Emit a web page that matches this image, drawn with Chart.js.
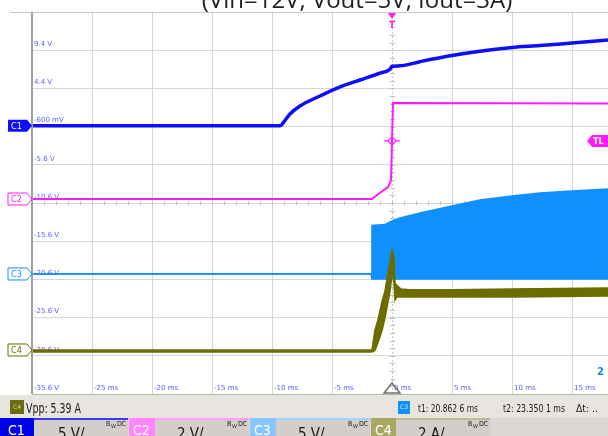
<!DOCTYPE html>
<html>
<head>
<meta charset="utf-8">
<script src="https://cdn.jsdelivr.net/npm/chart.js@4.4.1/dist/chart.umd.min.js"></script>
<style>
  html, body { margin: 0; padding: 0; background: #fff; overflow: hidden; }
  #wrap { position: relative; width: 608px; height: 436px; }
</style>
</head>
<body>
<div id="wrap"><canvas id="scope" width="608" height="436"></canvas></div>
<script>
// graticule ticks (ms / V of C1 scale)
const xTicks = [-30, -25, -20, -15, -10, -5, 0, 5, 10, 15];
const yTicks = [-35.6, -30.6, -25.6, -20.6, -15.6, -10.6, -5.6, -0.6, 4.4, 9.4, 14.4];

// C1 - output voltage
const c1Time = [-30, -9.33, -8.9, -8.5, -7.67, -6, -4.33, -2.67, -1, -0.17, 0, 0.67, 2.33, 5, 7.33, 10, 12.33, 15, 18];
const c1Volt = [-0.5, -0.5, 0.26, 1.05, 2.1, 3.41, 4.6, 5.5, 6.4, 6.9, 7.3, 7.35, 7.9, 8.7, 9.25, 9.75, 10.0, 10.35, 10.74];

// C2 - power good / enable
const c2Time = [-30, -1.67, -1.25, -0.33, -0.08, 0.08, 18];
const c2Volt = [-10.08, -10.08, -9.55, -8.51, -7.59, 2.49, 2.42];

// C3 - switch node (envelope)
const c3Time = [-30, -1.75, -1.67, -0.58, 0, 0.67, 2.33, 5, 7.33, 10, 12.33, 15, 18];
const c3High = [-19.89, -19.89, -13.55, -13.4, -12.96, -12.56, -11.91, -10.99, -10.21, -9.68, -9.29, -9.03, -8.77];
const c3Low  = [-19.89, -19.89, -20.55, -20.55, -20.55, -20.55, -20.55, -20.55, -20.55, -20.55, -20.55, -20.55, -20.55];

// C4 - inductor current (envelope)
const c4Time = [-30, -1.67, -1.42, -1.17, -0.83, -0.58, -0.42, -0.17, 0, 0.08, 0.17, 0.25, 0.42, 0.75, 1.5, 5, 10, 18];
const c4High = [-29.84, -29.84, -27.2, -25.9, -23.5, -22.1, -20.5, -18.4, -16.75, -17.01, -17.8, -21.1, -21.4, -21.86, -21.95, -21.95, -21.86, -21.73];
const c4Low  = [-30.1, -30.1, -29.9, -28.9, -27.3, -25.6, -24.3, -22.2, -20.02, -19.37, -21.33, -23.3, -22.9, -22.9, -22.9, -22.9, -22.9, -22.77];

const triggerLevel = -2.48;

const c1Color = '#0d0dff';
const c2Color = '#ff1aff';
const c3Color = '#1090ff';
const c4Color = '#6c6c00';

function pts(t, v) {
    return t.map((x, i) => ({ x: x, y: v[i] }));
}

function yLabel(v) {
    if (Math.abs(v) < 1) return Math.round(v * 1000) + ' mV';
    return v.toFixed(1) + ' V';
}

function tag(ctx, x0, y, w, h, color, filled, text) {
    ctx.beginPath();
    ctx.moveTo(x0, y - h / 2);
    ctx.lineTo(x0 + w - 5, y - h / 2);
    ctx.lineTo(x0 + w, y);
    ctx.lineTo(x0 + w - 5, y + h / 2);
    ctx.lineTo(x0, y + h / 2);
    ctx.closePath();
    if (filled) {
        ctx.fillStyle = color;
        ctx.fill();
    } else {
        ctx.fillStyle = '#fff';
        ctx.fill();
        ctx.strokeStyle = color;
        ctx.lineWidth = 1;
        ctx.stroke();
    }
    ctx.fillStyle = filled ? '#fff' : color;
    ctx.font = '9px "DejaVu Sans Condensed", "DejaVu Sans"';
    ctx.textAlign = 'left';
    ctx.textBaseline = 'middle';
    ctx.fillText(text, x0 + 3, y + 0.5);
}

const scopeDecor = {
    id: 'scopeDecor',
    beforeDatasetsDraw(chart) {
        const ctx = chart.ctx;
        const a = chart.chartArea;
        const xs = chart.scales.x, ys = chart.scales.y;
        ctx.save();
        // dotted centre line at t = 0
        const x0 = xs.getPixelForValue(0);
        ctx.strokeStyle = '#c8c8c8';
        ctx.lineWidth = 1;
        ctx.setLineDash([2, 2]);
        ctx.beginPath();
        ctx.moveTo(x0 + 0.5, a.top);
        ctx.lineTo(x0 + 0.5, a.bottom);
        ctx.stroke();
        ctx.setLineDash([]);
        // minor ticks on centre axes
        const yc = ys.getPixelForValue(-10.6);
        ctx.strokeStyle = '#c0c0c0';
        ctx.beginPath();
        for (let t = -30; t <= 18; t += 1) {
            const px = Math.round(xs.getPixelForValue(t)) + 0.5;
            ctx.moveTo(px, yc - 2);
            ctx.lineTo(px, yc + 2);
        }
        for (let k = 0; k <= 50; k++) {
            const py = Math.round(ys.getPixelForValue(-35.6 + k)) + 0.5;
            ctx.moveTo(x0 - 2, py);
            ctx.lineTo(x0 + 3, py);
        }
        ctx.stroke();
        // graticule labels
        ctx.fillStyle = '#5c5cff';
        ctx.font = '7px "DejaVu Sans"';
        ctx.textAlign = 'left';
        ctx.textBaseline = 'middle';
        yTicks.forEach(v => {
            if (v === 14.4) return;
            ctx.fillText(yLabel(v), a.left + 2, ys.getPixelForValue(v) - 6);
        });
        xTicks.forEach(t => {
            if (t === -30) return;
            ctx.fillText(t + ' ms', xs.getPixelForValue(t) + 2, a.bottom - 6);
        });
        ctx.restore();
    },
    afterDraw(chart) {
        const ctx = chart.ctx;
        const a = chart.chartArea;
        const xs = chart.scales.x, ys = chart.scales.y;
        const W = chart.width;
        ctx.save();

        // title (cut by the top of the window)
        ctx.fillStyle = '#222';
        ctx.font = '24px "Open Sans"';
        ctx.textAlign = 'center';
        ctx.textBaseline = 'alphabetic';
        ctx.fillText('(Vin=12V, Vout=5V, Iout=3A)', 357, 8);

        // top frame line
        ctx.strokeStyle = '#c8c8c8';
        ctx.lineWidth = 1;
        ctx.beginPath();
        ctx.moveTo(10, a.top + 0.5);
        ctx.lineTo(W, a.top + 0.5);
        ctx.stroke();
        // left frame
        ctx.strokeStyle = '#a0a0a0';
        ctx.lineWidth = 2;
        ctx.beginPath();
        ctx.moveTo(a.left, a.top);
        ctx.lineTo(a.left, a.bottom);
        ctx.stroke();

        // trigger marker
        const xt = xs.getPixelForValue(0);
        ctx.fillStyle = c2Color;
        ctx.beginPath();
        ctx.moveTo(xt - 4, a.top + 1);
        ctx.lineTo(xt + 4, a.top + 1);
        ctx.lineTo(xt, a.top + 7);
        ctx.closePath();
        ctx.fill();
        ctx.font = 'bold 9px "DejaVu Sans"';
        ctx.textAlign = 'center';
        ctx.textBaseline = 'alphabetic';
        ctx.fillText('T', xt, a.top + 16);

        // trigger level diamond + TL tag
        const yl = ys.getPixelForValue(triggerLevel);
        ctx.strokeStyle = c2Color;
        ctx.lineWidth = 1.2;
        ctx.beginPath();
        ctx.moveTo(xt, yl - 4);
        ctx.lineTo(xt + 4, yl);
        ctx.lineTo(xt, yl + 4);
        ctx.lineTo(xt - 4, yl);
        ctx.closePath();
        ctx.moveTo(xt - 8, yl);
        ctx.lineTo(xt - 4, yl);
        ctx.moveTo(xt + 4, yl);
        ctx.lineTo(xt + 8, yl);
        ctx.stroke();
        ctx.fillStyle = c2Color;
        ctx.beginPath();
        ctx.moveTo(W, yl - 6);
        ctx.lineTo(W - 16, yl - 6);
        ctx.lineTo(W - 21, yl);
        ctx.lineTo(W - 16, yl + 6);
        ctx.lineTo(W, yl + 6);
        ctx.closePath();
        ctx.fill();
        ctx.fillStyle = '#fff';
        ctx.font = 'bold 8px "DejaVu Sans"';
        ctx.textAlign = 'left';
        ctx.textBaseline = 'middle';
        ctx.fillText('TL', W - 15, yl + 0.5);

        // zoom icon fragment
        ctx.fillStyle = '#1a7cff';
        ctx.font = 'bold 10px "DejaVu Sans"';
        ctx.fillText('2 (', 597, 372);

        // horizontal trigger position
        ctx.strokeStyle = '#707070';
        ctx.lineWidth = 1.5;
        ctx.beginPath();
        ctx.moveTo(xt - 8, a.bottom - 1);
        ctx.lineTo(xt + 8, a.bottom - 1);
        ctx.lineTo(xt, a.bottom - 11);
        ctx.closePath();
        ctx.stroke();

        // channel tags on the left
        tag(ctx, 8, ys.getPixelForValue(c1Volt[0]), 24, 12, c1Color, true, 'C1');
        tag(ctx, 8, ys.getPixelForValue(c2Volt[0]), 24, 12, c2Color, false, 'C2');
        tag(ctx, 8, ys.getPixelForValue(c3High[0]), 24, 12, c3Color, false, 'C3');
        tag(ctx, 8, ys.getPixelForValue(c4High[0]), 24, 12, c4Color, false, 'C4');

        // bottom frame
        ctx.strokeStyle = '#b4b4b4';
        ctx.lineWidth = 1;
        ctx.beginPath();
        ctx.moveTo(a.left, a.bottom + 0.5);
        ctx.lineTo(W, a.bottom + 0.5);
        ctx.stroke();

        // measurement bar
        ctx.fillStyle = '#e8e4e0';
        ctx.fillRect(0, 395, W, 23);
        ctx.fillStyle = '#6b6b10';
        ctx.fillRect(10, 400, 14, 14);
        ctx.fillStyle = '#d8d8a8';
        ctx.font = '6px "DejaVu Sans"';
        ctx.textAlign = 'center';
        ctx.textBaseline = 'middle';
        ctx.fillText('C4', 17, 407.5);
        ctx.fillStyle = '#1a1a1a';
        ctx.font = '14px "DejaVu Sans"';
        ctx.textAlign = 'left';
        ctx.textBaseline = 'alphabetic';
        ctx.fillText('Vpp: 5.39 A', 26, 413, 55);

        ctx.fillStyle = c3Color;
        ctx.fillRect(398, 401, 12, 13);
        ctx.fillStyle = '#cfe6ff';
        ctx.font = '6px "DejaVu Sans"';
        ctx.textAlign = 'center';
        ctx.textBaseline = 'middle';
        ctx.fillText('C3', 404, 407.5);
        ctx.fillStyle = '#1a1a1a';
        ctx.font = '11px "DejaVu Sans"';
        ctx.textAlign = 'left';
        ctx.textBaseline = 'alphabetic';
        ctx.fillText('t1: 20.862 6 ms', 418, 412, 60);
        ctx.fillText('t2: 23.350 1 ms', 503, 412, 62);
        ctx.fillText('\u0394t: ..', 576, 412, 22);

        // channel setting boxes
        const boxes = [
            { x: 0, w: 34, end: 128, name: 'C1', col: '#0000e6', edge: '#3a3aff', scale: '5 V/', sx: 58 },
            { x: 129, w: 26, end: 249, name: 'C2', col: '#ff86ff', edge: '#ff9cff', scale: '2 V/', sx: 177 },
            { x: 250, w: 26, end: 370, name: 'C3', col: '#88c4ff', edge: '#a4d2ff', scale: '5 V/', sx: 298 },
            { x: 371, w: 25, end: 490, name: 'C4', col: '#a8a862', edge: '#bcbc88', scale: '2 A/', sx: 418 }
        ];
        ctx.fillStyle = '#dcd7d2';
        ctx.fillRect(0, 418, W, 18);
        boxes.forEach(b => {
            const gx = b.x + b.w;
            ctx.fillStyle = '#d3cec9';
            ctx.fillRect(gx, 418, b.end - gx, 18);
            ctx.fillStyle = b.edge;
            ctx.fillRect(gx, 418, b.end - gx, 2);
            ctx.fillStyle = b.col;
            ctx.fillRect(b.x, 418, b.w, 18);
            ctx.fillStyle = '#fff';
            ctx.font = '14px "DejaVu Sans Condensed", "DejaVu Sans"';
            ctx.textAlign = 'left';
            ctx.textBaseline = 'alphabetic';
            ctx.fillText(b.name, b.x + (b.w > 30 ? 8 : 4), 435);
            ctx.fillStyle = '#1a1a1a';
            ctx.font = '15px "DejaVu Sans Condensed", "DejaVu Sans"';
            ctx.fillText(b.scale, b.sx, 439);
            ctx.font = '7px "DejaVu Sans Condensed", "DejaVu Sans"';
            ctx.fillText('B', b.end - 22, 426);
            ctx.font = '5px "DejaVu Sans"';
            ctx.fillText('W', b.end - 17, 428);
            ctx.font = '7px "DejaVu Sans Condensed", "DejaVu Sans"';
            ctx.fillText('DC', b.end - 11, 426);
        });
        ctx.restore();
    }
};

new Chart(document.getElementById('scope'), {
    type: 'line',
    data: {
        datasets: [
            { label: 'C4 high', data: pts(c4Time, c4High), borderColor: c4Color, backgroundColor: c4Color, borderWidth: 1.5, fill: '+1' },
            { label: 'C4 low', data: pts(c4Time, c4Low), borderColor: c4Color, borderWidth: 1.5, fill: false },
            { label: 'C3 high', data: pts(c3Time, c3High), borderColor: c3Color, backgroundColor: c3Color, borderWidth: 1.5, fill: '+1' },
            { label: 'C3 low', data: pts(c3Time, c3Low), borderColor: c3Color, borderWidth: 1.5, fill: false },
            { label: 'C2', data: pts(c2Time, c2Volt), borderColor: c2Color, borderWidth: 2, fill: false },
            { label: 'C1', data: pts(c1Time, c1Volt), borderColor: c1Color, borderWidth: 3.5, fill: false, cubicInterpolationMode: 'monotone' }
        ]
    },
    options: {
        responsive: false,
        animation: false,
        devicePixelRatio: 1,
        layout: { padding: { left: 32, top: 12, right: 0, bottom: 42 } },
        elements: { point: { radius: 0 }, line: { tension: 0 } },
        plugins: {
            legend: { display: false },
            tooltip: { enabled: false },
            title: { display: false }
        },
        scales: {
            x: {
                type: 'linear',
                min: -30,
                max: 18,
                afterBuildTicks: s => { s.ticks = xTicks.map(v => ({ value: v })); },
                ticks: { display: false },
                border: { display: false },
                grid: {
                    drawTicks: false,
                    color: c => (c.tick && c.tick.value === 0) ? 'rgba(0,0,0,0)' : '#d6d6d6'
                }
            },
            y: {
                type: 'linear',
                min: -35.6,
                max: 14.4,
                afterBuildTicks: s => { s.ticks = yTicks.map(v => ({ value: v })); },
                ticks: { display: false },
                border: { display: false },
                grid: { drawTicks: false, color: '#d6d6d6' }
            }
        }
    },
    plugins: [scopeDecor]
});
</script>
</body>
</html>
